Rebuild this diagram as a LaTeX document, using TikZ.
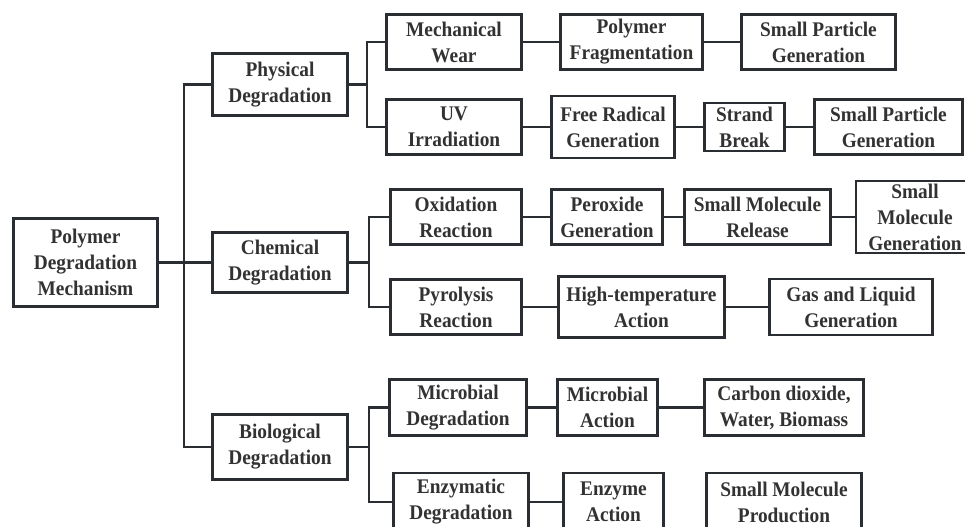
\documentclass[tikz,border=0pt]{standalone}
\usepackage{fontspec}
\setmainfont[FakeStretch=0.93]{Liberation Serif}
\usetikzlibrary{positioning,calc}
\definecolor{lncol}{RGB}{42,46,50}
\definecolor{txcol}{RGB}{50,50,50}
\tikzset{blk/.style={draw=lncol,line width=2.2pt,fill=white,align=center,inner sep=0pt,text=txcol,font=\fontsize{15.6}{19.5}\selectfont\bfseries}}
\tikzset{sz/.style 2 args={minimum width=#1*0.75pt,minimum height=#2*0.75pt}}
\tikzset{lnk/.style={draw=lncol,line width=2pt}}

\begin{document}
\begin{tikzpicture}[x=0.75pt,y=-0.75pt]
\useasboundingbox (0,0) rectangle (965,527);
\clip (0,0) rectangle (965,527);
% root and the three kinds
\node[blk,sz={144}{88}] (root) at (85.5,262.5) {Polymer\\Degradation\\Mechanism};
\node[blk,sz={135}{62}] (phys) at (280,84.5) {Physical\\Degradation};
\node[blk,sz={135}{60}] (chem) at (280,262.5) {Chemical\\Degradation};
\node[blk,sz={135}{65}] (bio) at (280,447) {Biological\\Degradation};

% physical
\node[blk,sz={135}{55}] (mech) at (454,42) {Mechanical\\Wear};
\node[blk,sz={142}{55}] (frag) at (631.5,42) {Polymer\\Fragmentation};
\node[blk,sz={154}{55}] (spgA) at (818.5,42) {Small Particle\\Generation};
\node[blk,sz={135}{55}] (uv) at (454,127) {UV\\Irradiation};
\node[blk,sz={123}{62}] (frad) at (613,127) {Free Radical\\Generation};
\node[blk,sz={80}{48}] (strand) at (744.5,127) {Strand\\Break};
\node[blk,sz={148}{55}] (spgB) at (888.5,127) {Small Particle\\Generation};

% chemical
\node[blk,sz={131}{55}] (oxid) at (456,217) {Oxidation\\Reaction};
\node[blk,sz={111}{55}] (perox) at (607,217) {Peroxide\\Generation};
\node[blk,sz={146}{55}] (smrel) at (757.5,217) {Small Molecule\\Release};
\node[blk,sz={118}{72}] (smgen) at (915,217) {Small\\Molecule\\Generation};
\node[blk,sz={131}{55}] (pyro) at (456,307) {Pyrolysis\\Reaction};
\node[blk,sz={166}{61}] (hitemp) at (641.5,307) {High-temperature\\Action};
\node[blk,sz={163}{56}] (gasliq) at (851,307) {Gas and Liquid\\Generation};

% biological
\node[blk,sz={137}{56}] (micdeg) at (458,407.5) {Microbial\\Degradation};
\node[blk,sz={100}{56}] (micact) at (607.5,407.5) {Microbial\\Action};
\node[blk,sz={159}{56}] (carbon) at (784,407.5) {Carbon dioxide,\\Water, Biomass};
\node[blk,sz={135}{58}] (enzdeg) at (461,502) {Enzymatic\\Degradation};
\node[blk,sz={100}{58}] (enzact) at (613.5,502) {Enzyme\\Action};
\node[blk,sz={155}{58}] (smprod) at (784,502) {Small Molecule\\Production};

% trunk
\draw[lnk] (root) -- (chem);
\draw[lnk] (phys.west) -- ++(-27,0) |- (bio.west);

% buses
\draw[lnk] (phys.east) -- ++(18,0) coordinate (pb);
\draw[lnk] (mech.west) -| (pb) |- (uv.west);
\draw[lnk] (chem.east) -- ++(20,0) coordinate (cb);
\draw[lnk] (oxid.west) -| (cb) |- (pyro.west);
\draw[lnk] (bio.east) -- ++(20,0) coordinate (bb);
\draw[lnk] (micdeg.west) -| (bb) |- (enzdeg.west);

% chains
\draw[lnk] (mech) -- (frag);
\draw[lnk] (frag) -- (spgA);
\draw[lnk] (uv) -- (frad);
\draw[lnk] (frad) -- (strand);
\draw[lnk] (strand) -- (spgB);
\draw[lnk] (oxid) -- (perox);
\draw[lnk] (perox) -- (smrel);
\draw[lnk] (smrel) -- (smgen);
\draw[lnk] (pyro) -- (hitemp);
\draw[lnk] (hitemp) -- (gasliq);
\draw[lnk] (micdeg) -- (micact);
\draw[lnk] (micact) -- (carbon);
\draw[lnk] (enzdeg) -- (enzact);
\end{tikzpicture}
\end{document}
